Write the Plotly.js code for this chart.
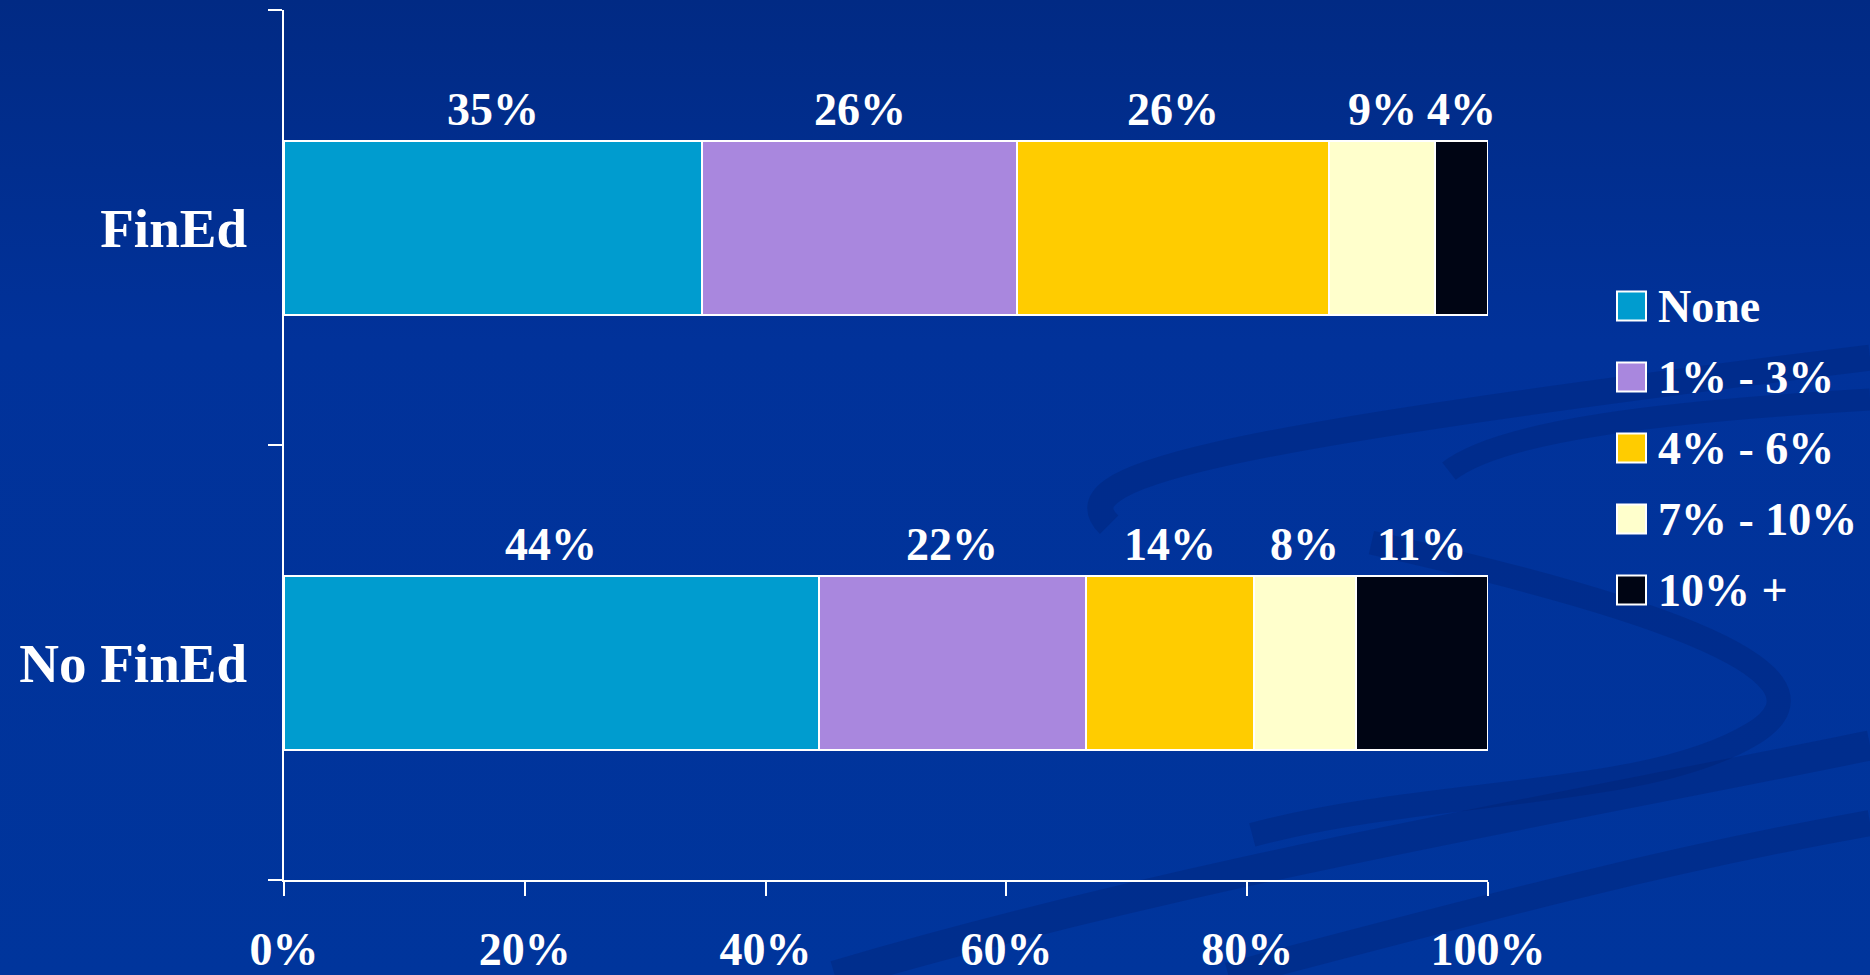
<!DOCTYPE html>
<html>
<head>
<meta charset="utf-8">
<script src="https://cdn.plot.ly/plotly-3.0.1.min.js"></script>
<style>
  html, body { margin: 0; padding: 0; }
  body {
    width: 1870px; height: 975px; overflow: hidden;
    background: linear-gradient(to bottom, #012a84 0%, #01329a 35%, #00359c 100%);
  }
  #chart { width: 1870px; height: 975px; }
</style>
</head>
<body>
<div id="chart"></div>
<script>
// ---- Data ----
const categories = ['No FinEd', 'FinEd'];
const seriesNames = ['None', '1% - 3%', '4% - 6%', '7% - 10%', '10% +'];
const seriesColors = ['#009ccf', '#a987de', '#ffcc00', '#ffffcc', '#000514'];
const pctNone    = [44.4, 34.7];
const pct1to3    = [22.2, 26.2];
const pct4to6    = [14.0, 25.9];
const pct7to10   = [8.4, 8.8];
const pct10plus  = [11.0, 4.4];
const xTickVals  = [0, 20, 40, 60, 80, 100];

const seriesValues = [pctNone, pct1to3, pct4to6, pct7to10, pct10plus];

const fontFamily = '"Liberation Serif", "DejaVu Serif", serif';

// ---- Traces ----
const traces = seriesValues.map((vals, s) => ({
  type: 'bar',
  orientation: 'h',
  name: seriesNames[s],
  y: categories,
  x: vals,
  marker: { color: seriesColors[s], line: { color: '#ffffff', width: 2 } },
  hoverinfo: 'name+x',
  showlegend: false
}));

// ---- Value labels above each segment ----
const annotations = [];
categories.forEach((cat, ci) => {
  let cum = 0;
  seriesValues.forEach((vals) => {
    const v = vals[ci];
    annotations.push({
      xref: 'x', yref: 'y',
      x: cum + v / 2, y: ci + 0.2,
      text: '<b>' + Math.round(v) + '%</b>',
      showarrow: false,
      xanchor: 'center', yanchor: 'bottom', yshift: 4,
      font: { family: fontFamily, size: 46, color: '#ffffff' }
    });
    cum += v;
  });
});

// ---- Legend (large swatches, like the reference) ----
const W = 1870, H = 975, ML = 284, MR = 382, MT = 10, MB = 95;
const PW = W - ML - MR, PH = H - MT - MB;
const px = X => (X - ML) / PW;
const py = Y => (H - MB - Y) / PH;

const shapes = [];
const legendX0 = 1617, legendSw = 29, legendY0 = 306, legendStep = 71;
seriesNames.forEach((name, s) => {
  const cy = legendY0 + s * legendStep;
  shapes.push({
    type: 'rect', xref: 'paper', yref: 'paper', layer: 'above',
    x0: px(legendX0), x1: px(legendX0 + legendSw),
    y0: py(cy + legendSw / 2), y1: py(cy - legendSw / 2),
    fillcolor: seriesColors[s], line: { color: '#ffffff', width: 2 }
  });
  annotations.push({
    xref: 'paper', yref: 'paper',
    x: px(legendX0 + legendSw + 10), y: py(cy),
    xanchor: 'left', yanchor: 'middle', showarrow: false,
    text: '<b>' + name + '</b>',
    font: { family: fontFamily, size: 46, color: '#ffffff' }
  });
});

// ---- Background swoosh decoration (template artwork) ----
const k = 1870 / 1568;
const P = (x, y) => px(x * k).toFixed(4) + ',' + py(y * k).toFixed(4);
const swooshColor = 'rgba(0,28,105,0.28)';
const swooshes = [
  ['M' + P(930, 440) + ' C' + P(890, 400) + ' ' + P(1000, 370) + ' ' + P(1568, 300), 26],
  ['M' + P(1215, 395) + ' C' + P(1260, 360) + ' ' + P(1400, 345) + ' ' + P(1568, 335), 22],
  ['M' + P(1150, 455) + ' C' + P(1350, 500) + ' ' + P(1560, 560) + ' ' + P(1470, 615) + ' S' + P(1200, 660) + ' ' + P(1050, 700), 24],
  ['M' + P(700, 818) + ' C' + P(1000, 730) + ' ' + P(1300, 680) + ' ' + P(1568, 625), 30],
  ['M' + P(1030, 818) + ' C' + P(1250, 760) + ' ' + P(1400, 720) + ' ' + P(1568, 690), 26]
];
swooshes.forEach(([path, w]) => {
  shapes.push({
    type: 'path', xref: 'paper', yref: 'paper', layer: 'below',
    path: path, line: { color: swooshColor, width: w }
  });
});

const layout = {
  width: W, height: H,
  margin: { l: ML, r: MR, t: MT, b: MB, pad: 0 },
  paper_bgcolor: 'rgba(0,0,0,0)',
  plot_bgcolor: 'rgba(0,0,0,0)',
  barmode: 'stack',
  bargap: 0.6,
  showlegend: false,
  font: { family: fontFamily, color: '#ffffff' },
  xaxis: {
    range: [0, 100],
    tickvals: xTickVals,
    ticktext: xTickVals.map(v => v + '%'),
    ticks: 'outside', ticklen: 14, tickwidth: 2, tickcolor: '#ffffff',
    showline: true, linecolor: '#ffffff', linewidth: 2,
    showgrid: false, zeroline: false,
    ticklabelstandoff: 14,
    tickfont: { family: fontFamily, size: 46, color: '#ffffff', weight: 'bold' },
    fixedrange: true
  },
  yaxis: {
    type: 'category',
    categoryorder: 'array', categoryarray: categories,
    range: [-0.5, 1.5],
    tickson: 'boundaries',
    ticks: 'outside', ticklen: 14, tickwidth: 2, tickcolor: '#ffffff',
    showline: true, linecolor: '#ffffff', linewidth: 2,
    showgrid: false, zeroline: false,
    ticklabelstandoff: 24,
    tickfont: { family: fontFamily, size: 55, color: '#ffffff', weight: 'bold' },
    fixedrange: true
  },
  annotations: annotations,
  shapes: shapes
};

Plotly.newPlot('chart', traces, layout, { displayModeBar: false, staticPlot: false });
</script>
</body>
</html>
